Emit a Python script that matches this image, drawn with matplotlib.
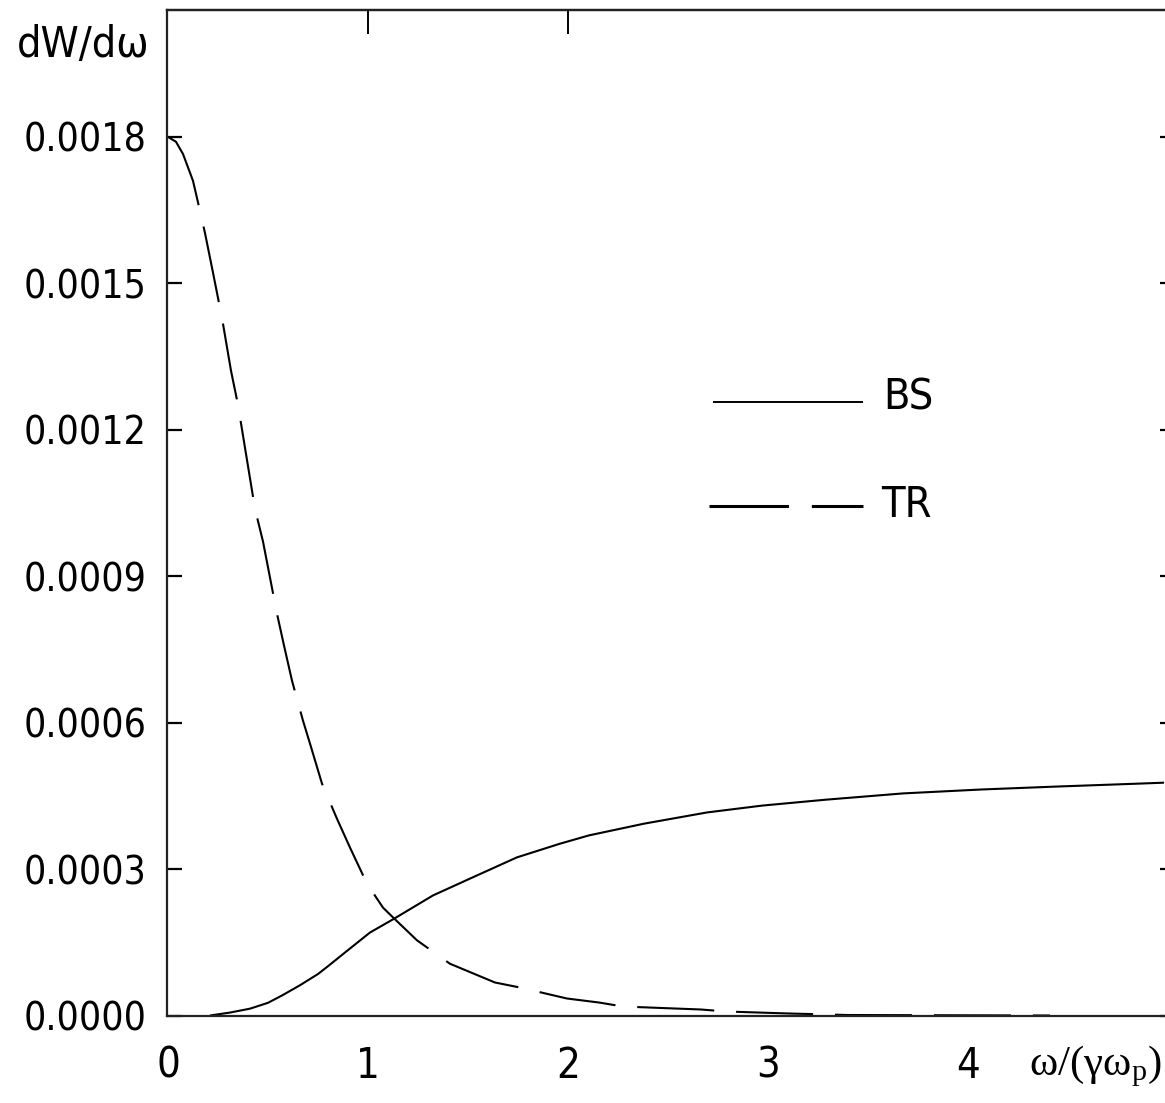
import matplotlib
matplotlib.use("Agg")
import matplotlib.pyplot as plt
from matplotlib.font_manager import FontProperties

# ---- data ----
bs_x = [0.21, 0.31, 0.41, 0.5, 0.57, 0.66, 0.75, 0.8, 0.9, 1.01, 1.125, 1.325, 1.545,
        1.745, 1.96, 2.105, 2.38, 2.695, 2.97, 3.285, 3.675, 4.065, 4.44, 4.85, 4.98]
bs_y = [0.0, 0.000006, 0.000014, 0.000026, 0.000041, 0.000062, 0.000085, 0.000101,
        0.000134, 0.00017, 0.000197, 0.000246, 0.000287, 0.000324, 0.000352, 0.000369,
        0.000393, 0.000416, 0.00043, 0.000442, 0.000455, 0.000463, 0.000469, 0.000475,
        0.000477]

tr_x = [0.0, 0.04, 0.075, 0.125, 0.16, 0.185, 0.22, 0.27, 0.315, 0.35, 0.385, 0.435, 0.475,
        0.51, 0.545, 0.58, 0.62, 0.675, 0.71, 0.77, 0.845, 0.91, 0.995, 1.075, 1.125,
        1.245, 1.41, 1.635, 1.76, 1.995, 2.155, 2.275, 2.665, 2.79, 3.105, 3.4, 4.41]
tr_y = [0.0018, 0.00179, 0.001765, 0.00171, 0.001648, 0.001603, 0.001532, 0.001429, 0.001321,
        0.001251, 0.001163, 0.001038, 0.000971, 0.000897, 0.000823, 0.000758, 0.000686,
        0.000604, 0.000557, 0.000475, 0.000403, 0.000344, 0.00027, 0.000221, 0.000201,
        0.000154, 0.000106, 0.0000676, 0.0000573, 0.0000348, 0.0000266, 0.0000184,
        0.0000123, 0.0000082, 0.0000041, 0.000001, 0.0]

x_ticks = [0, 1, 2, 3, 4]
x_tick_labels = ["0", "1", "2", "3", "4"]
y_ticks = [0.0, 0.0003, 0.0006, 0.0009, 0.0012, 0.0015, 0.0018]
y_tick_labels = ["0.0000", "0.0003", "0.0006", "0.0009", "0.0012", "0.0015", "0.0018"]
series_labels = ["BS", "TR"]

SANS = ["DejaVu Sans", "Liberation Sans"]


def FP(size):
    return FontProperties(family=SANS, stretch="condensed", size=size)


plt.rcParams["font.family"] = SANS
plt.rcParams["font.stretch"] = "condensed"
plt.rcParams["mathtext.fontset"] = "custom"
plt.rcParams["mathtext.rm"] = "Liberation Serif"
plt.rcParams["mathtext.it"] = "Liberation Serif:italic"

W, H = 1165, 1103
fig = plt.figure(figsize=(W / 100, H / 100), dpi=100)
fig.patch.set_facecolor("white")

left_px, right_px, top_px, bottom_px = 167, 1168, 10, 1015.5
ax = fig.add_axes([left_px / W, 1 - bottom_px / H,
                   (right_px - left_px) / W, (bottom_px - top_px) / H])
ax.set_xlim(-0.005, 5.0)
ax.set_ylim(0.0, 0.00206)

ax.plot(bs_x, bs_y, color="black", lw=1.5, solid_capstyle="butt")
ax.plot(tr_x, tr_y, color="black", lw=1.5, linestyle=(0, (37, 10.5)), dash_capstyle="butt")

for s in ax.spines.values():
    s.set_linewidth(1.6)
    s.set_color("#222222")

# y ticks (left labelled, right short marks)
ax.set_yticks(y_ticks)
ax.set_yticklabels(y_tick_labels)
for t in ax.get_yticklabels():
    t.set_fontproperties(FP(28))
ax.tick_params(axis="y", which="major", direction="in", length=11, width=1.6,
               pad=14.5, right=False, left=True)
sec_r = ax.secondary_yaxis("right")
sec_r.set_yticks(y_ticks)
sec_r.set_yticklabels([])
sec_r.tick_params(direction="in", length=5.5, width=1.6)
sec_r.spines["right"].set_linewidth(1.6)

# x ticks: labels at 0..4, marks only at 1 and 2
ax.set_xticks(x_ticks)
ax.set_xticklabels(x_tick_labels)
for t in ax.get_xticklabels():
    t.set_fontproperties(FP(30))
ax.tick_params(axis="x", which="major", length=0, pad=21)
ax.set_xticks([1, 2], minor=True)
ax.tick_params(axis="x", which="minor", direction="in", length=14, width=1.0,
               bottom=True, top=False)
sec_t = ax.secondary_xaxis("top")
sec_t.set_xticks([1, 2])
sec_t.set_xticklabels([])
sec_t.tick_params(direction="in", length=17, width=1.4)
sec_t.spines["top"].set_linewidth(1.6)

# axis labels
fig.text(1162 / W, 1 - 1066 / H, "ω/(γω$_{\\mathrm{p}}$)",
         family=["Liberation Serif", "DejaVu Serif"], fontsize=31,
         ha="right", va="center")
fig.text(17 / W, 1 - 45 / H, "dW/dω", fontproperties=FP(31),
         ha="left", va="center")

# legend (drawn manually to match placement)
ax.plot([0.5455, 0.6953], [0.6101, 0.6101], transform=ax.transAxes,
        color="black", lw=1.4, solid_capstyle="butt")
ax.plot([0.5415, 0.6953], [0.5067, 0.5067], transform=ax.transAxes,
        color="black", lw=2.2, linestyle=(0, (26, 7.5)), dash_capstyle="butt")
ax.text(0.7153, 0.6146, series_labels[0], transform=ax.transAxes,
        fontproperties=FP(31), ha="left", va="center")
ax.text(0.7133, 0.5077, series_labels[1], transform=ax.transAxes,
        fontproperties=FP(31), ha="left", va="center")

fig.savefig("out.png", dpi=100)
